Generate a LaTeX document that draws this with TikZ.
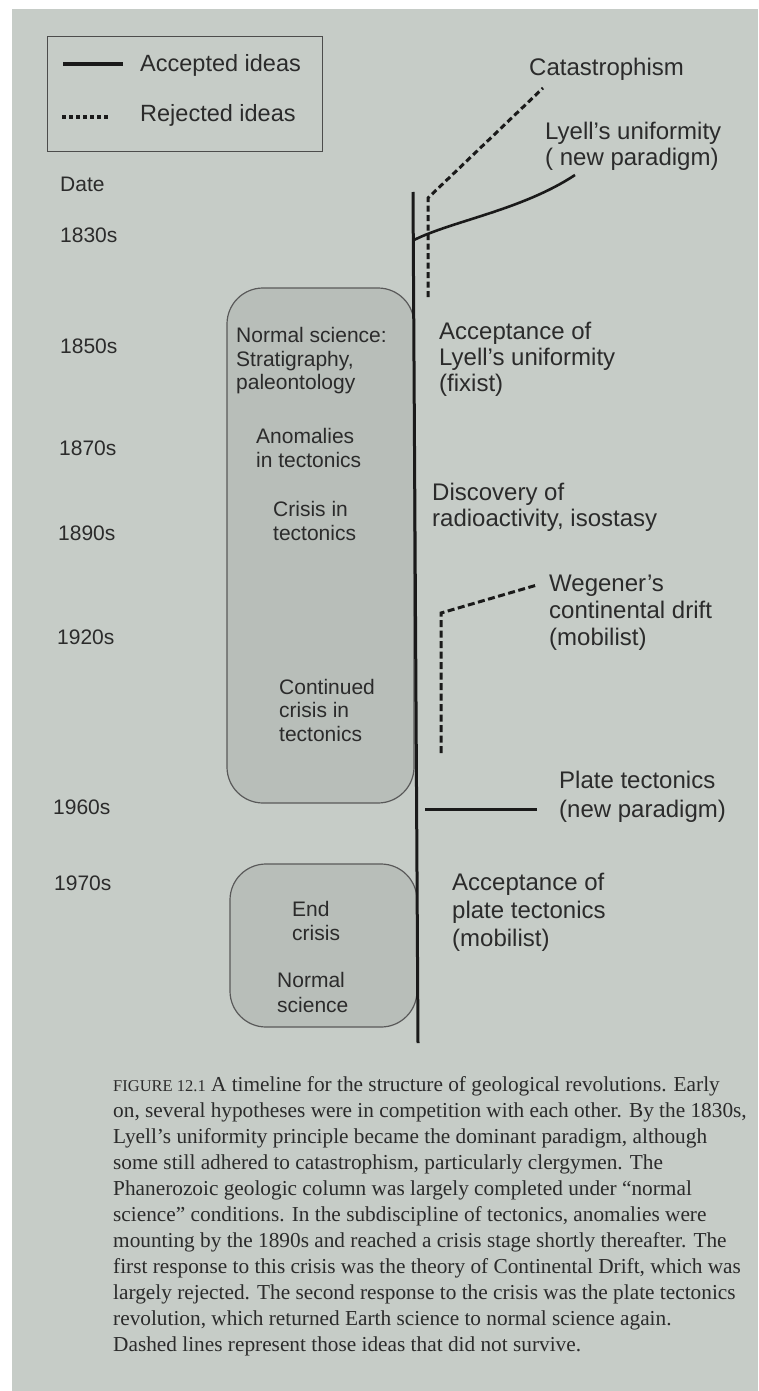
\documentclass[tikz,border=0pt]{standalone}
\usepackage{fontspec}
\setmainfont{Liberation Sans}
\newfontfamily\capfont{Liberation Serif}
\definecolor{pagebg}{HTML}{C6CCC7}
\definecolor{boxfill}{HTML}{B8BEB9}
\definecolor{inkc}{HTML}{2B2B2B}
\definecolor{linec}{HTML}{1A1A1A}
\begin{document}
\begin{tikzpicture}[x=1pt,y=-1pt,
  lbl/.style={inner sep=0pt, anchor=west, text=inkc, align=left, font=\fontsize{24}{26}\selectfont},
  leglbl/.style={inner sep=0pt, anchor=west, text=inkc, font=\fontsize{23.5}{26}\selectfont},
  datelbl/.style={inner sep=0pt, anchor=west, text=inkc, font=\fontsize{21}{23}\selectfont},
  boxlbl/.style={inner sep=0pt, anchor=west, text=inkc, align=left, font=\fontsize{21}{23.5}\selectfont},
  eraBox/.style={draw=black!65, fill=boxfill, line width=1.2pt, rounded corners=36pt},
  accepted/.style={draw=linec, line width=3pt},
  rejected/.style={draw=linec, line width=3pt, dash pattern=on 6pt off 3.5pt},
  captext/.style={inner sep=0pt, anchor=north west, text=inkc, align=left, font=\capfont\fontsize{21.3}{26}\selectfont},
]
\useasboundingbox (0,0) rectangle (758,1391);
\fill[white] (0,0) rectangle (758,1391);
\fill[pagebg] (12,9) rectangle (758,1391);

% legend
\node (legend) [draw=black!70, line width=1.2pt, minimum width=275pt, minimum height=115pt, anchor=north west, inner sep=0pt] at (47,36) {};
\coordinate (accA) at (63,64);
\coordinate (accB) at (123,64);
\coordinate (rejA) at (62,117);
\coordinate (rejB) at (111,117);
\draw[accepted, line width=3.5pt] (accA) -- (accB);
\draw[linec, line width=3.5pt, dash pattern=on 3.5pt off 3.5pt] (rejA) -- (rejB);
\node (accT) [leglbl] at (140,65) {Accepted ideas};
\node (rejT) [leglbl] at (140,115) {Rejected ideas};

% dates
\node (dDate) [datelbl] at (60,184) {Date};
\node (d1830) [datelbl] at (60,235) {1830s};
\node (d1850) [datelbl] at (60,346) {1850s};
\node (d1870) [datelbl] at (59,448) {1870s};
\node (d1890) [datelbl] at (58,533) {1890s};
\node (d1920) [datelbl] at (57,637) {1920s};
\node (d1960) [datelbl] at (53,807) {1960s};
\node (d1970) [datelbl] at (54,883) {1970s};

% era boxes
\draw[eraBox] (227,288) rectangle (414,803);
\draw[eraBox] (230,864) rectangle (417,1027);

% main timeline
\coordinate (mainTop) at (413,192);
\coordinate (mainBot) at (418,1043);
\draw[accepted] (mainTop) -- (mainBot);

% catastrophism (rejected)
\coordinate (catA) at (428,297);
\coordinate (catB) at (428,198);
\coordinate (catC) at (543,88);
\draw[rejected] (catA) -- (catB) -- (catC);

% Lyell's uniformity (accepted)
\coordinate (lyA) at (414,240);
\coordinate (lyB) at (575,175);
\draw[accepted, line width=2.6pt] (lyA) .. controls (452,221) and (522,210) .. (lyB);

% Wegener (rejected)
\coordinate (wgA) at (441,753);
\coordinate (wgB) at (441,613);
\coordinate (wgC) at (537,585);
\draw[rejected, dash pattern=on 7pt off 3.5pt] (wgA) -- (wgB) -- (wgC);

% plate tectonics (accepted)
\coordinate (ptA) at (425,809);
\coordinate (ptB) at (537,809);
\draw[accepted] (ptA) -- (ptB);

% right-hand labels
\node (catT) [lbl] at (529,69) {Catastrophism};
\node (lyT) [lbl] at (545,146) {Lyell's uniformity\\( new paradigm)};
\node (accLy) [lbl] at (439,359) {Acceptance of\\Lyell's uniformity\\(fixist)};
\node (disc) [lbl] at (432,507) {Discovery of\\radioactivity, isostasy};
\node (weg) [lbl, font=\fontsize{24}{27}\selectfont] at (549,613) {Wegener's\\continental drift\\(mobilist)};
\node (plate) [lbl, font=\fontsize{24}{29}\selectfont] at (559,797) {Plate tectonics\\(new paradigm)};
\node (accPl) [lbl, font=\fontsize{24}{28}\selectfont] at (452,912) {Acceptance of\\plate tectonics\\(mobilist)};

% box labels
\node (ns1) [boxlbl] at (236,361) {Normal science:\\Stratigraphy,\\paleontology};
\node (anom) [boxlbl] at (256,448) {Anomalies\\in tectonics};
\node (cris) [boxlbl] at (273,521) {Crisis in\\tectonics};
\node (cont) [boxlbl] at (279,710) {Continued\\crisis in\\tectonics};
\node (endc) [boxlbl, font=\fontsize{21}{24}\selectfont] at (292,921) {End\\crisis};
\node (ns2) [boxlbl, font=\fontsize{21}{25}\selectfont] at (277,992) {Normal\\science};

% caption
\node (cap) [captext] at (113,1076) {{\fontsize{16.5}{26}\selectfont FIGURE 12.1}\ A timeline for the structure of geological revolutions. Early\\
on, several hypotheses were in competition with each other. By the 1830s,\\
Lyell’s uniformity principle became the dominant paradigm, although\\
some still adhered to catastrophism, particularly clergymen. The\\
Phanerozoic geologic column was largely completed under “normal\\
science” conditions. In the subdiscipline of tectonics, anomalies were\\
mounting by the 1890s and reached a crisis stage shortly thereafter. The\\
first response to this crisis was the theory of Continental Drift, which was\\
largely rejected. The second response to the crisis was the plate tectonics\\
revolution, which returned Earth science to normal science again.\\
Dashed lines represent those ideas that did not survive.};
\end{tikzpicture}
\end{document}
